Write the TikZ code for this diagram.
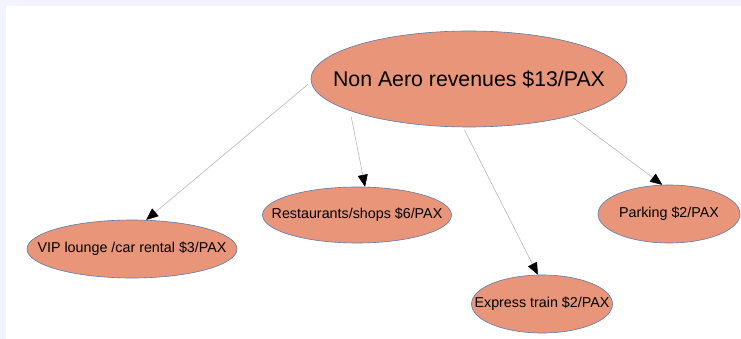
\documentclass[tikz,border=0pt]{standalone}
\usepackage{fontspec}
\setmainfont{Liberation Sans}
\usetikzlibrary{shapes.geometric,arrows.meta}
\definecolor{bubble}{RGB}{233,149,122}
\definecolor{rim}{RGB}{92,122,172}
\definecolor{wire}{RGB}{185,185,185}
\definecolor{frame}{RGB}{243,243,255}
% zero-width text so the ellipse size comes from the minimum dimensions only
\newcommand{\snug}[1]{\makebox[0pt][c]{#1}}
\begin{document}
\begin{tikzpicture}[x=1pt,y=-1pt,
  bubblebox/.style={ellipse,draw=rim,line width=0.6pt,fill=bubble,inner sep=0pt,
    font=\fontsize{14.3}{16}\selectfont},
  link/.style={draw=wire,line width=0.6pt,-{Triangle[length=12pt,width=10pt,black]}}]
  % page frame
  \fill[frame] (0,0) rectangle (741,339);
  \fill[white] (6,6) rectangle (741,339);
  \useasboundingbox (0,0) rectangle (741,339);

  % nodes
  \node[bubblebox,minimum width=316pt,minimum height=96pt,
        font=\fontsize{21.3}{24}\selectfont] (main) at (469,79) {\snug{Non Aero revenues \$13/PAX}};
  \node[bubblebox,minimum width=210pt,minimum height=58pt] (vip) at (132,249) {\snug{VIP lounge /car rental \$3/PAX}};
  \node[bubblebox,minimum width=189pt,minimum height=56pt] (shops) at (357,215) {\snug{Restaurants/shops \$6/PAX}};
  \node[bubblebox,minimum width=141pt,minimum height=58pt] (train) at (542,304) {\snug{Express train \$2/PAX}};
  \node[bubblebox,minimum width=142pt,minimum height=58pt] (park) at (669,214) {\snug{Parking \$2/PAX}};

  % connectors
  \draw[link,shorten <=4pt] (main.181) -- (vip.64);
  \draw[link,shorten <=6pt] (main.195.7) -- (shops.74);
  \draw[link,shorten <=3pt] (main.263) -- (train.98);
  \draw[link,shorten <=3pt] (main.340.4) -- (park.103.6);
\end{tikzpicture}
\end{document}
